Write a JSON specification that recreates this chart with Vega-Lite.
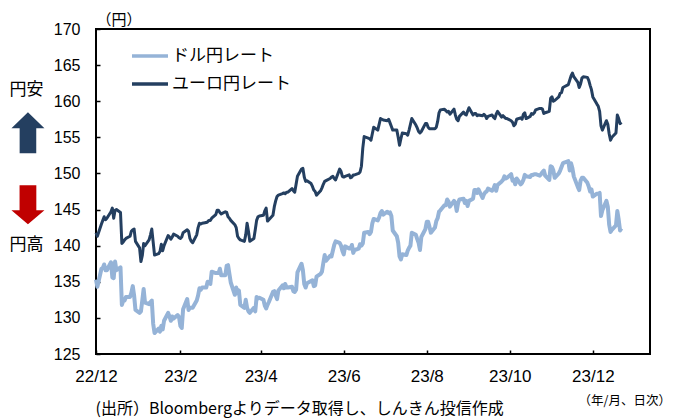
{
  "$schema": "https://vega.github.io/schema/vega-lite/v6.json",
  "width": 554,
  "height": 325,
  "autosize": {"type": "none"},
  "padding": {"left": 96, "top": 29, "right": 25, "bottom": 64},
  "background": "white",
  "config": {
    "view": {"stroke": "#000", "strokeWidth": 2},
    "font": "Noto Sans CJK JP",
    "axis": {
      "grid": false,
      "domain": false,
      "tickColor": "#000",
      "tickSize": -4,
      "tickWidth": 1.5,
      "labelColor": "#000",
      "labelFont": "Liberation Sans",
      "titleColor": "#000",
      "titleFont": "Noto Sans CJK JP",
      "titleFontWeight": "normal"
    }
  },
  "title": {
    "text": "（年/月、日次）",
    "orient": "bottom",
    "anchor": "end",
    "frame": "group",
    "font": "Noto Sans CJK JP",
    "fontSize": 12.5,
    "fontWeight": "normal",
    "color": "#000",
    "offset": -21,
    "dx": 21
  },
  "datasets": {
    "fx": [
      {"d": "2022-12-01", "u": 135.3, "e": 141.8},
      {"d": "2022-12-02", "u": 134.3, "e": 141.3},
      {"d": "2022-12-05", "u": 136.8, "e": 143.0},
      {"d": "2022-12-06", "u": 136.9, "e": 143.5},
      {"d": "2022-12-07", "u": 137.4, "e": 144.0},
      {"d": "2022-12-08", "u": 136.6, "e": 143.6},
      {"d": "2022-12-09", "u": 136.6, "e": 143.8},
      {"d": "2022-12-12", "u": 137.7, "e": 144.7},
      {"d": "2022-12-13", "u": 135.6, "e": 145.2},
      {"d": "2022-12-14", "u": 135.5, "e": 143.8},
      {"d": "2022-12-15", "u": 137.8, "e": 144.9},
      {"d": "2022-12-16", "u": 136.6, "e": 145.0},
      {"d": "2022-12-19", "u": 137.0, "e": 144.6},
      {"d": "2022-12-20", "u": 131.8, "e": 140.3},
      {"d": "2022-12-21", "u": 132.4, "e": 140.5},
      {"d": "2022-12-22", "u": 132.4, "e": 140.8},
      {"d": "2022-12-23", "u": 132.9, "e": 141.0},
      {"d": "2022-12-26", "u": 132.9, "e": 141.3},
      {"d": "2022-12-27", "u": 133.5, "e": 142.0},
      {"d": "2022-12-28", "u": 134.4, "e": 142.2},
      {"d": "2022-12-29", "u": 133.1, "e": 142.3},
      {"d": "2022-12-30", "u": 131.1, "e": 140.6},
      {"d": "2023-01-02", "u": 130.7, "e": 139.7},
      {"d": "2023-01-03", "u": 130.9, "e": 137.8},
      {"d": "2023-01-04", "u": 132.4, "e": 138.6},
      {"d": "2023-01-05", "u": 134.0, "e": 140.3},
      {"d": "2023-01-06", "u": 132.1, "e": 140.0},
      {"d": "2023-01-09", "u": 131.9, "e": 140.8},
      {"d": "2023-01-10", "u": 132.2, "e": 141.5},
      {"d": "2023-01-11", "u": 132.4, "e": 142.3},
      {"d": "2023-01-12", "u": 129.2, "e": 140.5},
      {"d": "2023-01-13", "u": 127.9, "e": 138.7},
      {"d": "2023-01-16", "u": 128.5, "e": 138.9},
      {"d": "2023-01-17", "u": 128.1, "e": 139.2},
      {"d": "2023-01-18", "u": 128.9, "e": 140.2},
      {"d": "2023-01-19", "u": 128.4, "e": 139.3},
      {"d": "2023-01-20", "u": 129.6, "e": 140.0},
      {"d": "2023-01-23", "u": 130.7, "e": 141.4},
      {"d": "2023-01-24", "u": 130.2, "e": 141.2},
      {"d": "2023-01-25", "u": 129.6, "e": 140.9},
      {"d": "2023-01-26", "u": 130.2, "e": 141.2},
      {"d": "2023-01-27", "u": 129.9, "e": 141.6},
      {"d": "2023-01-30", "u": 130.4, "e": 141.3},
      {"d": "2023-01-31", "u": 130.1, "e": 141.1},
      {"d": "2023-02-01", "u": 128.9, "e": 141.0},
      {"d": "2023-02-02", "u": 128.6, "e": 141.2},
      {"d": "2023-02-03", "u": 131.2, "e": 141.8},
      {"d": "2023-02-06", "u": 132.6, "e": 142.2},
      {"d": "2023-02-07", "u": 131.1, "e": 142.0},
      {"d": "2023-02-08", "u": 131.4, "e": 141.0},
      {"d": "2023-02-09", "u": 131.4, "e": 140.6},
      {"d": "2023-02-10", "u": 131.4, "e": 140.4},
      {"d": "2023-02-13", "u": 132.4, "e": 141.5},
      {"d": "2023-02-14", "u": 133.1, "e": 142.5},
      {"d": "2023-02-15", "u": 134.1, "e": 143.1},
      {"d": "2023-02-16", "u": 133.9, "e": 143.0},
      {"d": "2023-02-17", "u": 134.2, "e": 143.1},
      {"d": "2023-02-20", "u": 134.2, "e": 143.2},
      {"d": "2023-02-21", "u": 135.0, "e": 143.3},
      {"d": "2023-02-22", "u": 134.9, "e": 143.5},
      {"d": "2023-02-23", "u": 134.7, "e": 143.5},
      {"d": "2023-02-24", "u": 136.4, "e": 143.8},
      {"d": "2023-02-27", "u": 136.2, "e": 144.3},
      {"d": "2023-02-28", "u": 136.2, "e": 144.9},
      {"d": "2023-03-01", "u": 136.2, "e": 144.9},
      {"d": "2023-03-02", "u": 136.8, "e": 144.6},
      {"d": "2023-03-03", "u": 135.9, "e": 144.4},
      {"d": "2023-03-06", "u": 135.9, "e": 144.7},
      {"d": "2023-03-07", "u": 137.2, "e": 144.6},
      {"d": "2023-03-08", "u": 137.3, "e": 144.0},
      {"d": "2023-03-09", "u": 136.1, "e": 143.8},
      {"d": "2023-03-10", "u": 134.9, "e": 143.5},
      {"d": "2023-03-13", "u": 133.2, "e": 142.9},
      {"d": "2023-03-14", "u": 134.2, "e": 142.5},
      {"d": "2023-03-15", "u": 133.4, "e": 141.3},
      {"d": "2023-03-16", "u": 133.8, "e": 141.0},
      {"d": "2023-03-17", "u": 131.8, "e": 140.8},
      {"d": "2023-03-20", "u": 131.4, "e": 140.6},
      {"d": "2023-03-21", "u": 132.5, "e": 141.5},
      {"d": "2023-03-22", "u": 131.4, "e": 143.1},
      {"d": "2023-03-23", "u": 130.9, "e": 142.0},
      {"d": "2023-03-24", "u": 130.7, "e": 140.6},
      {"d": "2023-03-27", "u": 131.4, "e": 141.0},
      {"d": "2023-03-28", "u": 130.9, "e": 142.2},
      {"d": "2023-03-29", "u": 132.9, "e": 143.5},
      {"d": "2023-03-30", "u": 132.7, "e": 144.0},
      {"d": "2023-03-31", "u": 132.8, "e": 144.1},
      {"d": "2023-04-03", "u": 132.5, "e": 144.2},
      {"d": "2023-04-04", "u": 131.7, "e": 144.8},
      {"d": "2023-04-05", "u": 131.3, "e": 145.2},
      {"d": "2023-04-06", "u": 131.8, "e": 143.4},
      {"d": "2023-04-07", "u": 132.2, "e": 143.6},
      {"d": "2023-04-10", "u": 133.6, "e": 144.2},
      {"d": "2023-04-11", "u": 133.7, "e": 145.4},
      {"d": "2023-04-12", "u": 133.1, "e": 146.2},
      {"d": "2023-04-13", "u": 132.6, "e": 146.8},
      {"d": "2023-04-14", "u": 133.8, "e": 147.0},
      {"d": "2023-04-17", "u": 134.5, "e": 147.2},
      {"d": "2023-04-18", "u": 134.1, "e": 147.3},
      {"d": "2023-04-19", "u": 134.7, "e": 147.2},
      {"d": "2023-04-20", "u": 134.2, "e": 147.4},
      {"d": "2023-04-21", "u": 134.2, "e": 147.4},
      {"d": "2023-04-24", "u": 134.3, "e": 147.9},
      {"d": "2023-04-25", "u": 133.7, "e": 147.6},
      {"d": "2023-04-26", "u": 133.6, "e": 147.4},
      {"d": "2023-04-27", "u": 133.9, "e": 148.5},
      {"d": "2023-04-28", "u": 136.3, "e": 149.6},
      {"d": "2023-05-01", "u": 137.5, "e": 150.6},
      {"d": "2023-05-02", "u": 136.6, "e": 150.7},
      {"d": "2023-05-03", "u": 134.7, "e": 149.5},
      {"d": "2023-05-04", "u": 134.2, "e": 148.9},
      {"d": "2023-05-05", "u": 134.8, "e": 149.0},
      {"d": "2023-05-08", "u": 135.1, "e": 148.6},
      {"d": "2023-05-09", "u": 135.2, "e": 148.2},
      {"d": "2023-05-10", "u": 134.4, "e": 147.7},
      {"d": "2023-05-11", "u": 134.5, "e": 147.5},
      {"d": "2023-05-12", "u": 135.7, "e": 147.0},
      {"d": "2023-05-15", "u": 136.1, "e": 147.6},
      {"d": "2023-05-16", "u": 136.4, "e": 148.0},
      {"d": "2023-05-17", "u": 137.6, "e": 148.5},
      {"d": "2023-05-18", "u": 138.7, "e": 148.9},
      {"d": "2023-05-19", "u": 137.9, "e": 149.0},
      {"d": "2023-05-22", "u": 138.6, "e": 149.3},
      {"d": "2023-05-23", "u": 138.5, "e": 149.5},
      {"d": "2023-05-24", "u": 139.3, "e": 149.6},
      {"d": "2023-05-25", "u": 140.1, "e": 149.3},
      {"d": "2023-05-26", "u": 140.6, "e": 149.1},
      {"d": "2023-05-29", "u": 140.4, "e": 150.6},
      {"d": "2023-05-30", "u": 140.0, "e": 150.3},
      {"d": "2023-05-31", "u": 139.3, "e": 149.6},
      {"d": "2023-06-01", "u": 138.8, "e": 149.5},
      {"d": "2023-06-02", "u": 139.9, "e": 149.6},
      {"d": "2023-06-05", "u": 139.6, "e": 149.8},
      {"d": "2023-06-06", "u": 139.6, "e": 149.4},
      {"d": "2023-06-07", "u": 140.1, "e": 149.5},
      {"d": "2023-06-08", "u": 139.0, "e": 149.8},
      {"d": "2023-06-09", "u": 139.4, "e": 149.8},
      {"d": "2023-06-12", "u": 139.6, "e": 150.0},
      {"d": "2023-06-13", "u": 140.2, "e": 150.2},
      {"d": "2023-06-14", "u": 140.0, "e": 151.0},
      {"d": "2023-06-15", "u": 140.3, "e": 153.5},
      {"d": "2023-06-16", "u": 141.8, "e": 155.1},
      {"d": "2023-06-19", "u": 141.9, "e": 154.9},
      {"d": "2023-06-20", "u": 141.6, "e": 154.8},
      {"d": "2023-06-21", "u": 141.9, "e": 154.6},
      {"d": "2023-06-22", "u": 143.1, "e": 155.5},
      {"d": "2023-06-23", "u": 143.7, "e": 156.4},
      {"d": "2023-06-26", "u": 143.5, "e": 156.0},
      {"d": "2023-06-27", "u": 143.9, "e": 156.8},
      {"d": "2023-06-28", "u": 144.5, "e": 157.6},
      {"d": "2023-06-29", "u": 144.8, "e": 157.5},
      {"d": "2023-06-30", "u": 144.3, "e": 157.4},
      {"d": "2023-07-03", "u": 144.7, "e": 157.3},
      {"d": "2023-07-04", "u": 144.5, "e": 157.5},
      {"d": "2023-07-05", "u": 144.6, "e": 157.0},
      {"d": "2023-07-06", "u": 144.1, "e": 156.5},
      {"d": "2023-07-07", "u": 142.1, "e": 156.0},
      {"d": "2023-07-10", "u": 141.3, "e": 156.0},
      {"d": "2023-07-11", "u": 140.4, "e": 155.0},
      {"d": "2023-07-12", "u": 138.5, "e": 153.9},
      {"d": "2023-07-13", "u": 138.1, "e": 154.8},
      {"d": "2023-07-14", "u": 138.8, "e": 155.6},
      {"d": "2023-07-17", "u": 138.7, "e": 155.5},
      {"d": "2023-07-18", "u": 139.3, "e": 155.3},
      {"d": "2023-07-19", "u": 139.7, "e": 156.0},
      {"d": "2023-07-20", "u": 140.0, "e": 156.8},
      {"d": "2023-07-21", "u": 141.8, "e": 157.6},
      {"d": "2023-07-24", "u": 141.5, "e": 156.7},
      {"d": "2023-07-25", "u": 140.9, "e": 156.3},
      {"d": "2023-07-26", "u": 140.4, "e": 155.8},
      {"d": "2023-07-27", "u": 139.4, "e": 155.6},
      {"d": "2023-07-28", "u": 141.2, "e": 155.8},
      {"d": "2023-07-31", "u": 142.3, "e": 156.9},
      {"d": "2023-08-01", "u": 143.3, "e": 156.9},
      {"d": "2023-08-02", "u": 143.3, "e": 156.4},
      {"d": "2023-08-03", "u": 142.6, "e": 156.2},
      {"d": "2023-08-04", "u": 141.8, "e": 156.2},
      {"d": "2023-08-07", "u": 142.5, "e": 156.2},
      {"d": "2023-08-08", "u": 143.4, "e": 156.4},
      {"d": "2023-08-09", "u": 143.8, "e": 157.2},
      {"d": "2023-08-10", "u": 144.7, "e": 158.4},
      {"d": "2023-08-11", "u": 144.9, "e": 158.8},
      {"d": "2023-08-14", "u": 145.6, "e": 158.9},
      {"d": "2023-08-15", "u": 145.6, "e": 158.7},
      {"d": "2023-08-16", "u": 146.4, "e": 158.5},
      {"d": "2023-08-17", "u": 146.1, "e": 158.6},
      {"d": "2023-08-18", "u": 145.4, "e": 158.2},
      {"d": "2023-08-21", "u": 146.2, "e": 158.9},
      {"d": "2023-08-22", "u": 145.9, "e": 158.1},
      {"d": "2023-08-23", "u": 144.8, "e": 157.5},
      {"d": "2023-08-24", "u": 145.9, "e": 157.3},
      {"d": "2023-08-25", "u": 146.4, "e": 157.9},
      {"d": "2023-08-28", "u": 146.5, "e": 158.5},
      {"d": "2023-08-29", "u": 145.9, "e": 158.2},
      {"d": "2023-08-30", "u": 146.2, "e": 158.1},
      {"d": "2023-08-31", "u": 145.5, "e": 158.6},
      {"d": "2023-09-01", "u": 146.2, "e": 159.1},
      {"d": "2023-09-04", "u": 146.5, "e": 158.1},
      {"d": "2023-09-05", "u": 147.7, "e": 158.3},
      {"d": "2023-09-06", "u": 147.7, "e": 158.3},
      {"d": "2023-09-07", "u": 147.3, "e": 158.0},
      {"d": "2023-09-08", "u": 147.8, "e": 158.1},
      {"d": "2023-09-11", "u": 146.6, "e": 158.0},
      {"d": "2023-09-12", "u": 147.1, "e": 158.2},
      {"d": "2023-09-13", "u": 147.4, "e": 158.0},
      {"d": "2023-09-14", "u": 147.5, "e": 157.6},
      {"d": "2023-09-15", "u": 147.9, "e": 157.9},
      {"d": "2023-09-18", "u": 147.6, "e": 158.1},
      {"d": "2023-09-19", "u": 147.9, "e": 157.8},
      {"d": "2023-09-20", "u": 148.4, "e": 157.6},
      {"d": "2023-09-21", "u": 147.6, "e": 158.2},
      {"d": "2023-09-22", "u": 148.4, "e": 158.6},
      {"d": "2023-09-25", "u": 148.9, "e": 157.8},
      {"d": "2023-09-26", "u": 149.1, "e": 158.0},
      {"d": "2023-09-27", "u": 149.6, "e": 157.8},
      {"d": "2023-09-28", "u": 149.3, "e": 157.6},
      {"d": "2023-09-29", "u": 149.4, "e": 157.6},
      {"d": "2023-10-02", "u": 149.9, "e": 157.3},
      {"d": "2023-10-03", "u": 149.0, "e": 157.1},
      {"d": "2023-10-04", "u": 149.1, "e": 156.6},
      {"d": "2023-10-05", "u": 148.5, "e": 156.8},
      {"d": "2023-10-06", "u": 149.3, "e": 157.5},
      {"d": "2023-10-09", "u": 148.5, "e": 157.7},
      {"d": "2023-10-10", "u": 148.7, "e": 157.5},
      {"d": "2023-10-11", "u": 149.1, "e": 158.2},
      {"d": "2023-10-12", "u": 149.8, "e": 158.4},
      {"d": "2023-10-13", "u": 149.6, "e": 157.6},
      {"d": "2023-10-16", "u": 149.5, "e": 157.9},
      {"d": "2023-10-17", "u": 149.8, "e": 158.3},
      {"d": "2023-10-18", "u": 149.8, "e": 158.2},
      {"d": "2023-10-19", "u": 149.9, "e": 158.4},
      {"d": "2023-10-20", "u": 149.9, "e": 158.8},
      {"d": "2023-10-23", "u": 149.7, "e": 159.0},
      {"d": "2023-10-24", "u": 149.9, "e": 159.0},
      {"d": "2023-10-25", "u": 150.2, "e": 158.9},
      {"d": "2023-10-26", "u": 150.4, "e": 158.3},
      {"d": "2023-10-27", "u": 149.7, "e": 158.4},
      {"d": "2023-10-30", "u": 149.1, "e": 158.6},
      {"d": "2023-10-31", "u": 151.0, "e": 160.4},
      {"d": "2023-11-01", "u": 150.9, "e": 160.6},
      {"d": "2023-11-02", "u": 150.4, "e": 160.0},
      {"d": "2023-11-03", "u": 149.4, "e": 160.1},
      {"d": "2023-11-06", "u": 150.0, "e": 160.6},
      {"d": "2023-11-07", "u": 150.4, "e": 161.1},
      {"d": "2023-11-08", "u": 150.9, "e": 161.2},
      {"d": "2023-11-09", "u": 151.4, "e": 161.9},
      {"d": "2023-11-10", "u": 151.5, "e": 162.0},
      {"d": "2023-11-13", "u": 151.7, "e": 162.3},
      {"d": "2023-11-14", "u": 150.4, "e": 162.9},
      {"d": "2023-11-15", "u": 151.4, "e": 163.5},
      {"d": "2023-11-16", "u": 150.7, "e": 163.9},
      {"d": "2023-11-17", "u": 149.6, "e": 163.4},
      {"d": "2023-11-20", "u": 148.1, "e": 162.6},
      {"d": "2023-11-21", "u": 147.7, "e": 161.9},
      {"d": "2023-11-22", "u": 149.0, "e": 162.4},
      {"d": "2023-11-23", "u": 149.4, "e": 163.2},
      {"d": "2023-11-24", "u": 149.4, "e": 163.4},
      {"d": "2023-11-27", "u": 148.7, "e": 163.3},
      {"d": "2023-11-28", "u": 148.2, "e": 162.9},
      {"d": "2023-11-29", "u": 147.5, "e": 162.2},
      {"d": "2023-11-30", "u": 147.8, "e": 161.6},
      {"d": "2023-12-01", "u": 146.8, "e": 160.6},
      {"d": "2023-12-04", "u": 147.2, "e": 159.6},
      {"d": "2023-12-05", "u": 147.2, "e": 159.3},
      {"d": "2023-12-06", "u": 147.3, "e": 158.6},
      {"d": "2023-12-07", "u": 144.1, "e": 156.6},
      {"d": "2023-12-08", "u": 144.9, "e": 156.0},
      {"d": "2023-12-11", "u": 146.2, "e": 157.3},
      {"d": "2023-12-12", "u": 145.4, "e": 156.8},
      {"d": "2023-12-13", "u": 142.9, "e": 155.5},
      {"d": "2023-12-14", "u": 141.9, "e": 154.6},
      {"d": "2023-12-15", "u": 142.2, "e": 155.0},
      {"d": "2023-12-18", "u": 142.8, "e": 155.6},
      {"d": "2023-12-19", "u": 144.8, "e": 158.1},
      {"d": "2023-12-20", "u": 143.6, "e": 157.6},
      {"d": "2023-12-21", "u": 142.1, "e": 156.9},
      {"d": "2023-12-22", "u": 142.4, "e": 157.1}
    ],
    "notes": [
      {"d": "2022-10-11", "v": 161.55, "t": "円安"},
      {"d": "2022-10-11", "v": 140.1, "t": "円高"}
    ],
    "arrows": [
      {"d": "2022-10-12", "v": 155.63, "dir": "up"},
      {"d": "2022-10-12", "v": 145.67, "dir": "down"}
    ]
  },
  "encoding": {
    "x": {
      "field": "d",
      "type": "temporal",
      "scale": {
        "type": "utc",
        "domain": [
          {"year": 2022, "month": 12, "date": 1, "utc": true},
          {"year": 2024, "month": 1, "date": 12, "utc": true}
        ]
      },
      "axis": {
        "values": [
          {"year": 2022, "month": 12, "date": 1, "utc": true},
          {"year": 2023, "month": 2, "date": 1, "utc": true},
          {"year": 2023, "month": 4, "date": 1, "utc": true},
          {"year": 2023, "month": 6, "date": 1, "utc": true},
          {"year": 2023, "month": 8, "date": 1, "utc": true},
          {"year": 2023, "month": 10, "date": 1, "utc": true},
          {"year": 2023, "month": 12, "date": 1, "utc": true}
        ],
        "labelExpr": "utcFormat(datum.value, '%y/%-m')",
        "labelFontSize": 17,
        "labelPadding": 18,
        "labelFlush": false,
        "labelOverlap": false,
        "title": "(出所）Bloombergよりデータ取得し、しんきん投信作成",
        "titleFontSize": 16,
        "titleAnchor": "start",
        "titleAlign": "left",
        "titleBaseline": "middle",
        "titleX": -1,
        "titleY": 54
      }
    },
    "y": {
      "field": "v",
      "type": "quantitative",
      "scale": {"domain": [125, 170], "zero": false, "nice": false},
      "axis": {
        "values": [125, 130, 135, 140, 145, 150, 155, 160, 165, 170],
        "labelFontSize": 16,
        "labelPadding": 20,
        "labelFlush": false,
        "labelOverlap": false,
        "title": "（円）",
        "titleFontSize": 15,
        "titleAngle": 0,
        "titleAlign": "left",
        "titleBaseline": "middle",
        "titleX": 0,
        "titleY": -10
      }
    }
  },
  "layer": [
    {
      "data": {"name": "fx"},
      "transform": [{"fold": ["u", "e"], "as": ["s", "v"]}, {"filter": "datum.s === 'u'"}],
      "mark": {"type": "line", "strokeWidth": 4, "strokeJoin": "round"},
      "encoding": {
        "color": {
          "datum": "ドル円レート",
          "type": "nominal",
          "scale": {"domain": ["ドル円レート", "ユーロ円レート"], "range": ["#95B3D7", "#243F60"]},
          "legend": {
            "orient": "none",
            "legendX": 34,
            "legendY": 7,
            "title": null,
            "symbolType": "stroke",
            "symbolSize": 1296,
            "symbolStrokeWidth": 3.5,
            "labelFont": "Noto Sans CJK JP",
            "labelFontSize": 17,
            "labelColor": "#000",
            "labelOffset": 2,
            "rowPadding": 0,
            "padding": 0
          }
        }
      }
    },
    {
      "data": {"name": "fx"},
      "transform": [{"fold": ["u", "e"], "as": ["s", "v"]}, {"filter": "datum.s === 'e'"}],
      "mark": {"type": "line", "strokeWidth": 3, "strokeJoin": "round"},
      "encoding": {
        "color": {"datum": "ユーロ円レート", "type": "nominal"}
      }
    },
    {
      "data": {"name": "notes"},
      "mark": {"type": "text", "font": "Noto Sans CJK JP", "fontSize": 17, "color": "#000", "align": "center", "baseline": "middle"},
      "encoding": {
        "text": {"field": "t"}
      }
    },
    {
      "data": {"name": "arrows"},
      "transform": [{"filter": "datum.dir === 'up'"}],
      "mark": {
        "type": "point",
        "filled": true,
        "opacity": 1,
        "color": "#243F60",
        "size": 1681,
        "shape": "M0,-1 L0.805,-0.22 L0.405,-0.22 L0.405,1 L-0.405,1 L-0.405,-0.22 L-0.805,-0.22 Z"
      }
    },
    {
      "data": {"name": "arrows"},
      "transform": [{"filter": "datum.dir === 'down'"}],
      "mark": {
        "type": "point",
        "filled": true,
        "opacity": 1,
        "color": "#C00000",
        "size": 1521,
        "shape": "M0,1 L0.846,0.28 L0.43,0.28 L0.43,-1 L-0.43,-1 L-0.43,0.28 L-0.846,0.28 Z"
      }
    }
  ]
}
